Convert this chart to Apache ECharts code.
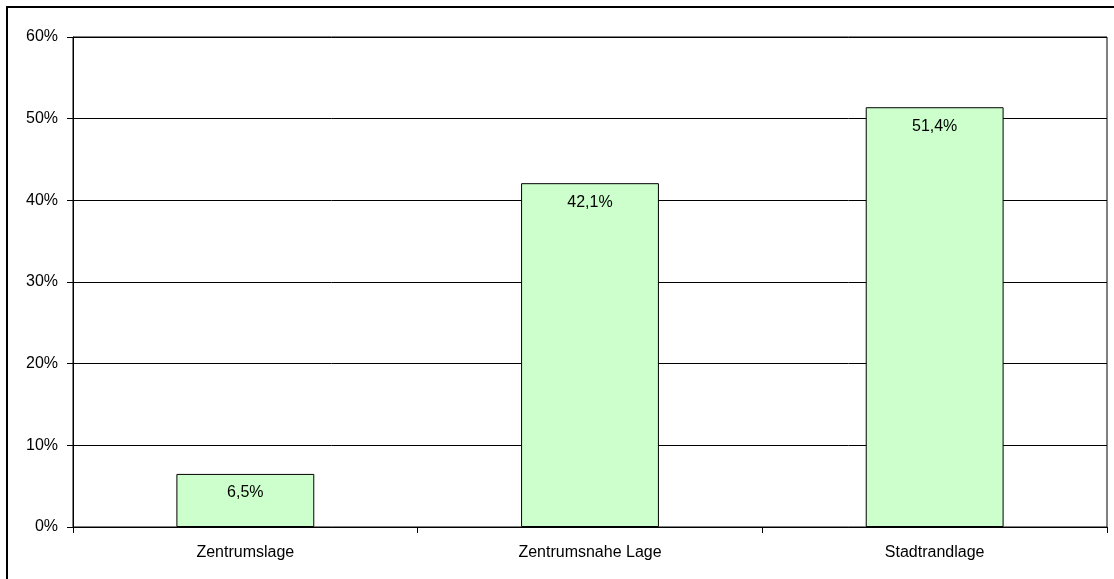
<!DOCTYPE html>
<html><head><meta charset="utf-8">
<script src="https://cdn.jsdelivr.net/npm/echarts@6/dist/echarts.min.js"></script>
<style>html,body{margin:0;padding:0;background:#fff}#c{width:1114px;height:579px}</style>
</head><body><div id="c"></div>
<script>
const categories = ['Zentrumslage', 'Zentrumsnahe Lage', 'Stadtrandlage'];
const values = [6.5, 42.1, 51.4];
const yTicks = [0, 10, 20, 30, 40, 50, 60];

const chart = echarts.init(document.getElementById('c'), null, {renderer: 'canvas'});
const font = 'Liberation Sans, Arial, sans-serif';
chart.setOption({
  animation: false,
  backgroundColor: '#fff',
  graphic: [{
    type: 'rect', shape: {x: 7, y: 7, width: 1200, height: 700},
    style: {fill: 'none', stroke: '#000', lineWidth: 2}, z: 100
  }],
  grid: {left: 73, right: 7, top: 37, bottom: 52, show: true, borderColor: '#000', borderWidth: 1, backgroundColor: 'transparent'},
  xAxis: {
    type: 'category', data: categories,
    axisLine: {lineStyle: {color: '#000', width: 1}},
    axisTick: {show: true, length: 6, lineStyle: {color: '#000'}},
    axisLabel: {color: '#000', fontFamily: font, fontSize: 16, margin: 18}
  },
  yAxis: {
    type: 'value', min: yTicks[0], max: yTicks[yTicks.length - 1], interval: 10,
    axisLine: {show: true, lineStyle: {color: '#000', width: 1}},
    axisTick: {show: true, length: 6, lineStyle: {color: '#000'}},
    axisLabel: {color: '#000', fontFamily: font, fontSize: 16, margin: 15, formatter: v => v + '%'},
    splitLine: {show: true, lineStyle: {color: '#000', width: 1}}
  },
  series: [{
    type: 'bar', data: values, barWidth: '40%',
    itemStyle: {color: '#ccffcc', borderColor: '#000', borderWidth: 1},
    label: {
      show: true, position: 'insideTop', distance: 11, color: '#000',
      fontFamily: font, fontSize: 16,
      formatter: p => p.value.toFixed(1).replace('.', ',') + '%'
    }
  }]
});
</script></body></html>
